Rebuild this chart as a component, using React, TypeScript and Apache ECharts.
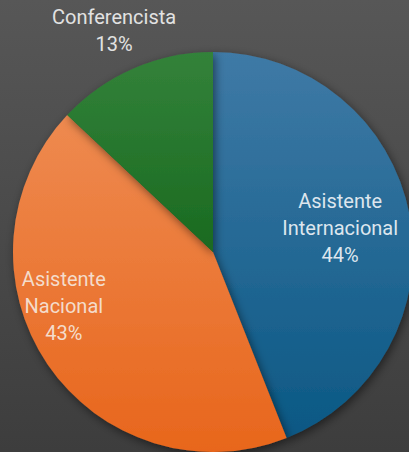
import React, { useEffect, useRef } from "react";
import * as echarts from "echarts";

const categories = ["Asistente Internacional", "Asistente Nacional", "Conferencista"];
const labelNames = ["Asistente\nInternacional", "Asistente\nNacional", "Conferencista"];
const values = [44, 43, 13];

export default function App() {
  const ref = useRef<HTMLDivElement>(null);
  useEffect(() => {
    if (!ref.current) return;
    const chart = echarts.init(ref.current, null, { renderer: "svg" });
    const grad = (a: string, b: string) =>
      new echarts.graphic.LinearGradient(0, 0, 0, 1, [
        { offset: 0, color: a },
        { offset: 1, color: b },
      ]);
    const fills = [
      grad("#3f7aa6", "#0b5884"),
      grad("#ee8a50", "#e8661c"),
      grad("#33823a", "#1a6a20"),
    ];
    const offsets = [
      [26, -5],
      [-64, -4],
      [-58, -127],
    ];
    const labelColors = ["#dde6ee", "#f4dccb", "#e2e2e2"];
    chart.setOption({
      animation: false,
      backgroundColor: new echarts.graphic.LinearGradient(0, 0, 0, 1, [
        { offset: 0, color: "#575757" },
        { offset: 1, color: "#3d3d3d" },
      ]),
      series: [
        {
          type: "pie",
          center: [213, 252],
          radius: [0, 200],
          startAngle: 90,
          clockwise: true,
          silent: true,
          labelLine: { show: false },
          itemStyle: {
            shadowColor: "rgba(0,0,0,0.5)",
            shadowBlur: 10,
            shadowOffsetX: 2,
            shadowOffsetY: 3,
          },
          data: categories.map((c, i) => ({
            name: c,
            value: values[i],
            itemStyle: { color: fills[i] },
            label: {
              show: true,
              position: "inside",
              offset: offsets[i],
              formatter: () => `${labelNames[i]}\n${values[i]}%`,
              color: labelColors[i],
              fontFamily: "Roboto",
              fontSize: 20,
              lineHeight: 27,
              align: "center",
            },
          })),
        },
      ],
    });
    return () => chart.dispose();
  }, []);
  return (
    <div
      ref={ref}
      style={{ position: "fixed", left: 0, top: 0, width: 409, height: 452 }}
    />
  );
}
